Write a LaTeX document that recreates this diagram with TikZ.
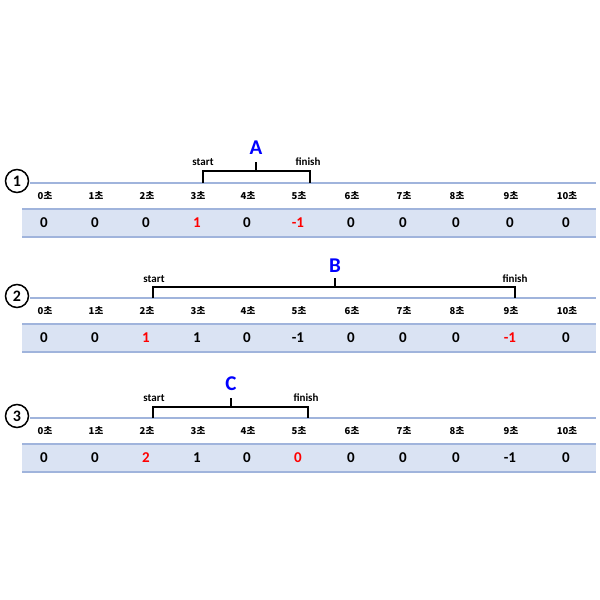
\documentclass[tikz,border=0pt]{standalone}
\usepackage{fontspec}
\setmainfont{Carlito}
\newfontfamily\kr{Noto Sans CJK KR}
\begin{document}
\begin{tikzpicture}[x=1pt,y=-1pt,
  tl/.style={font=\bfseries\fontsize{9.5}{10}\selectfont\kr},
  num/.style={font=\bfseries\fontsize{15}{16}\selectfont},
  lab/.style={font=\bfseries\fontsize{11}{12}\selectfont},
  big/.style={font=\bfseries\fontsize{21}{22}\selectfont,text=blue},
  circ/.style={draw,circle,line width=1.5pt,minimum size=23pt,inner sep=0pt,font=\bfseries\fontsize{16}{17}\selectfont},
  br/.style={line width=1.6pt}]
\useasboundingbox (0,0) rectangle (600,600);
\definecolor{band}{RGB}{218,227,243}
\definecolor{bl}{RGB}{160,180,220}
\def\xs{{45,96,147,198,248,299,352,404,457,511,567}}
\foreach \py/\vals in {0/{0/black,0/black,0/black,1/red,0/black,-1/red,0/black,0/black,0/black,0/black,0/black},115/{0/black,0/black,1/red,1/black,0/black,-1/black,0/black,0/black,0/black,-1/red,0/black},235/{0/black,0/black,2/red,1/black,0/black,0/red,0/black,0/black,0/black,-1/black,0/black}}{
  \draw[bl,line width=1.3pt] (30,183+\py) -- (596,183+\py);
  \fill[band] (22,209+\py) rectangle (596,237+\py);
  \draw[bl,line width=1.3pt] (22,209+\py) -- (596,209+\py);
  \draw[bl,line width=1.3pt] (22,237+\py) -- (596,237+\py);
  \foreach \v/\c [count=\i from 0] in \vals {
    \pgfmathsetmacro\xx{\xs[\i]}
    \node[tl] (t\i-\py) at (\xx,196+\py) {\i{}초};
    \node[num,text=\c] (n\i-\py) at (\xx-1,223+\py) {\v};
  }
}
\node[circ] (c1) at (17,181) {1};
\node[circ] (c2) at (17,296) {2};
\node[circ] (c3) at (17,416) {3};
% bracket A
\draw[br] (203,183) -- (203,171) -- (310,171) -- (310,183);
\draw[br] (256,171) -- (256,162);
\node[lab] (sa) at (203,162) {start};
\node[lab] (fa) at (308,162) {finish};
\node[big] (A) at (256,148) {A};
% bracket B
\draw[br] (153,298) -- (153,287) -- (515,287) -- (515,298);
\draw[br] (335,287) -- (335,278);
\node[lab] (sb) at (154,279) {start};
\node[lab] (fb) at (515,279) {finish};
\node[big] (B) at (335,266) {B};
% bracket C
\draw[br] (153,418) -- (153,407) -- (308,407) -- (308,418);
\draw[br] (231,407) -- (231,398);
\node[lab] (sc) at (154,398) {start};
\node[lab] (fc) at (306,398) {finish};
\node[big] (C) at (231,384) {C};
\end{tikzpicture}
\end{document}
